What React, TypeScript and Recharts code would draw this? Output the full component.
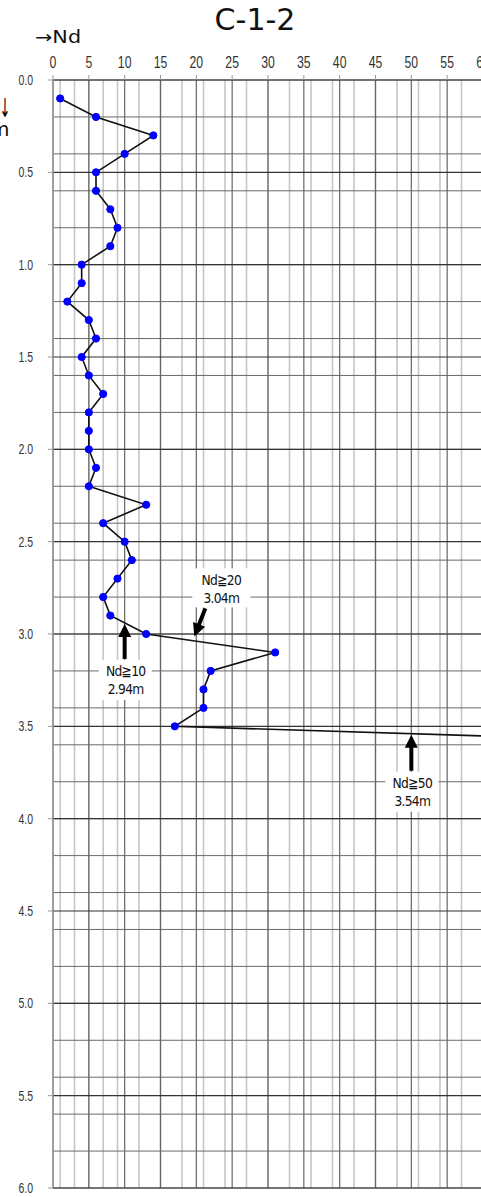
import React from 'react';
import { LineChart, Line, XAxis, YAxis, CartesianGrid, ReferenceDot } from 'recharts';

// ---- data ----
const depths = [0.1, 0.2, 0.3, 0.4, 0.5, 0.6, 0.7, 0.8, 0.9, 1.0, 1.1, 1.2, 1.3, 1.4, 1.5, 1.6, 1.7, 1.8, 1.9, 2.0, 2.1, 2.2, 2.3, 2.4, 2.5, 2.6, 2.7, 2.8, 2.9, 3.0, 3.1, 3.2, 3.3, 3.4, 3.5, 3.6];
const ndValues = [1, 6, 14, 10, 6, 6, 8, 9, 8, 4, 4, 2, 5, 6, 4, 5, 7, 5, 5, 5, 6, 5, 13, 7, 10, 11, 9, 7, 8, 13, 31, 22, 21, 21, 17, 100];
const ndTicks = [0, 5, 10, 15, 20, 25, 30, 35, 40, 45, 50, 55, 60];
const depthTicks = [0, 0.5, 1.0, 1.5, 2.0, 2.5, 3.0, 3.5, 4.0, 4.5, 5.0, 5.5, 6.0];
const ndMinorTicks = Array.from({ length: 61 }, (_, i) => i);
const depthMinorTicks = Array.from({ length: 61 }, (_, i) => i / 10);

const annotationNd = [10, 20, 50];
const annotationDepth = [2.94, 3.04, 3.54];
const annotationLabels = ['Nd≧10', 'Nd≧20', 'Nd≧50'];
const annotationSubs = ['2.94m', '3.04m', '3.54m'];

const title = 'C-1-2';

const data = depths.map((d, i) => ({ depth: d, nd: ndValues[i] }));

// ---- styling helpers ----
const SANS = "'Liberation Sans', 'DejaVu Sans', sans-serif";
const LABEL_FONT = "'DejaVu Sans', sans-serif";

function Arrow({ x1, y1, x2, y2 }: { x1: number; y1: number; x2: number; y2: number }) {
  const dx = x2 - x1;
  const dy = y2 - y1;
  const len = Math.hypot(dx, dy);
  const ux = dx / len;
  const uy = dy / len;
  const hl = 13;
  const hw = 6.5;
  const bx = x2 - ux * hl;
  const by = y2 - uy * hl;
  const px = -uy;
  const py = ux;
  return (
    <g>
      <line x1={x1} y1={y1} x2={bx + ux} y2={by + uy} stroke="#000" strokeWidth={4} />
      <polygon points={`${x2},${y2} ${bx + px * hw},${by + py * hw} ${bx - px * hw},${by - py * hw}`} fill="#000" />
    </g>
  );
}

// layout per annotation (pixel offsets relative to target point)
const annLayouts = [
  { tail: [0, 36], tip: [0, 1], text: [1, 48], box: [-26, 37, 53, 40] },
  { tail: [9, -33], tip: [-2, -5], text: [25, -61], box: [-4, -73, 58, 39] },
  { tail: [0, 37], tip: [0, 1], text: [1, 49], box: [-26, 38, 53, 40] },
];

const makeShape = (idx: number) => (props: any) => {
  const { cx, cy } = props;
  if (cx == null || cy == null) return <g />;
  const L = annLayouts[idx];
  const tx = cx + L.text[0];
  const ty = cy + L.text[1];
  return (
    <g>
      <rect x={cx + L.box[0]} y={cy + L.box[1]} width={L.box[2]} height={L.box[3]} fill="#fff" />
      <Arrow x1={cx + L.tail[0]} y1={cy + L.tail[1]} x2={cx + L.tip[0]} y2={cy + L.tip[1]} />
      <text transform={`translate(${tx},${ty}) scale(0.88,1)`} dy="0.36em" textAnchor="middle" fontFamily={LABEL_FONT} fontSize={14} letterSpacing={-0.8} fill="#111">
        {annotationLabels[idx]}
      </text>
      <text transform={`translate(${tx},${ty + 18}) scale(0.88,1)`} dy="0.36em" textAnchor="middle" fontFamily={LABEL_FONT} fontSize={14} letterSpacing={-0.8} fill="#111">
        {annotationSubs[idx]}
      </text>
    </g>
  );
};

const TopTick = (props: any) => {
  const { x, y, payload } = props;
  return (
    <text transform={`translate(${x},${y - 5}) scale(0.72,1)`} textAnchor="middle" fontFamily={SANS} fontSize={17} fill="#333">
      {payload.value}
    </text>
  );
};

const LeftTick = (props: any) => {
  const { x, y, payload } = props;
  return (
    <text transform={`translate(${x - 13},${y + 5}) scale(0.75,1)`} textAnchor="end" fontFamily={SANS} fontSize={14} fill="#333">
      {Number(payload.value).toFixed(1)}
    </text>
  );
};

export default function App() {
  return (
    <div style={{ position: 'fixed', left: 0, top: 0, width: 481, height: 1197, overflow: 'hidden', background: '#fff' }}>
      <LineChart
        width={500}
        height={1197}
        data={data}
        layout="vertical"
        margin={{ top: 50, right: 17, bottom: 9, left: 0 }}
      >
        <XAxis xAxisId="minor" type="number" dataKey="nd" domain={[0, 60]} ticks={ndMinorTicks} allowDataOverflow hide orientation="top" />
        <YAxis yAxisId="minor" type="number" dataKey="depth" domain={[0, 6]} ticks={depthMinorTicks} allowDataOverflow hide />
        <CartesianGrid xAxisId="minor" yAxisId="minor" horizontal={false} stroke="#c6c6c6" strokeWidth={1.6} />
        <CartesianGrid xAxisId="minor" yAxisId="minor" vertical={false} stroke="#6a6a6a" strokeWidth={1} />
        <XAxis
          type="number"
          dataKey="nd"
          orientation="top"
          domain={[0, 60]}
          ticks={ndTicks}
          allowDataOverflow
          height={30}
          axisLine={false}
          tickLine={{ stroke: '#999' }}
          tickSize={5}
          tick={<TopTick />}
          interval={0}
        />
        <YAxis
          type="number"
          dataKey="depth"
          domain={[0, 6]}
          ticks={depthTicks}
          allowDataOverflow
          width={53}
          axisLine={{ stroke: '#aaa' }}
          tickLine={{ stroke: '#999' }}
          tickSize={5}
          tick={<LeftTick />}
          interval={0}
        />
        <CartesianGrid horizontal={false} stroke="#666" strokeWidth={1.2} />
        <CartesianGrid vertical={false} stroke="#333" strokeWidth={1.2} />
        <Line
          dataKey="nd"
          stroke="#111"
          strokeWidth={1.6}
          isAnimationActive={false}
          dot={{ r: 3.6, fill: '#0000ff', stroke: '#0000ff', strokeWidth: 1 }}
        />
        {annotationNd.map((v, i) => (
          <ReferenceDot key={i} x={v} y={annotationDepth[i]} shape={makeShape(i)} ifOverflow="visible" />
        ))}
      </LineChart>
      <svg width={481} height={150} style={{ position: 'absolute', left: 0, top: 0, pointerEvents: 'none' }}>
        <text x={255} y={30} textAnchor="middle" fontFamily="'DejaVu Sans', sans-serif" fontSize={30} fill="#111">
          {title}
        </text>
        <text transform="translate(35,43) scale(1.22,1)" fontFamily="'DejaVu Sans', sans-serif" fontSize={17} fill="#111">
          →Nd
        </text>
        <text transform="translate(5,117) scale(0.5,1)" textAnchor="middle" fontFamily="'DejaVu Sans', sans-serif" fontSize={26} fill="#000" style={{ textRendering: 'geometricPrecision' }}>
          ↓
        </text>
        <text x={-10} y={136} fontFamily="'DejaVu Sans', sans-serif" fontSize={20} fill="#111">
          m
        </text>
      </svg>
    </div>
  );
}
